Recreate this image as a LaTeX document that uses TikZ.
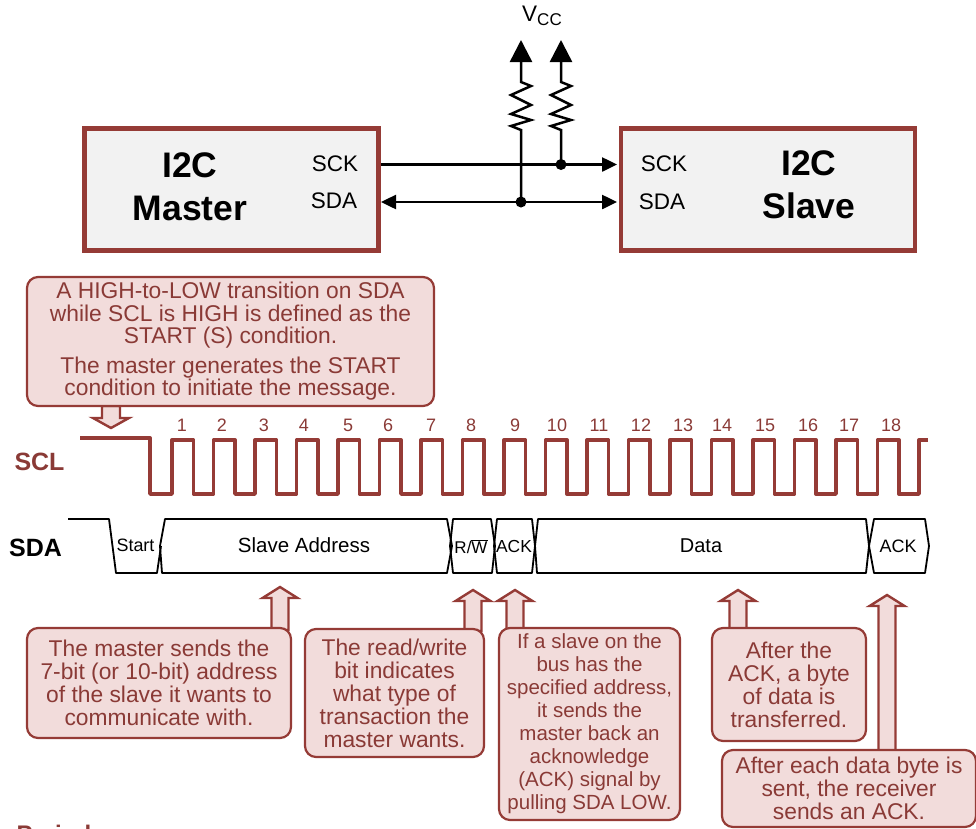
\documentclass[tikz,border=0pt]{standalone}
\usepackage{fontspec}
\setmainfont{Liberation Sans}
\usetikzlibrary{arrows.meta, positioning}
\definecolor{wine}{HTML}{953B36}
\definecolor{winetext}{HTML}{8A3A36}
\definecolor{blush}{HTML}{F2DCDB}

\begin{document}
\begin{tikzpicture}[
  x=1pt, y=-1pt,
  chip/.style={rectangle, draw=wine, line width=4.5pt, fill=black!5, inner sep=0pt,
               minimum width=294pt, minimum height=122pt},
  chiptitle/.style={align=center, font=\fontsize{35.5}{43}\selectfont\bfseries},
  pin/.style={font=\fontsize{22.5}{22.5}\selectfont},
  busline/.style={line width=2.5pt},
  busarrow/.style={busline, -{Triangle[length=15pt, width=14pt]}},
  dualarrow/.style={busline, {Triangle[length=15pt, width=14pt]}-{Triangle[length=15pt, width=14pt]}},
  callout/.style={rectangle, draw=wine, line width=2.2pt, fill=blush, rounded corners=11pt,
                  inner sep=0pt, align=center, text=winetext,
                  font=\fontsize{22.8}{23}\selectfont},
  blockarrow/.style={draw=wine, line width=2.4pt, fill=blush, line join=miter},
  clockno/.style={text=winetext, font=\fontsize{18}{18}\selectfont},
  sigbox/.style={draw=black, line width=1.8pt, line join=round},
  siglabel/.style={font=\fontsize{20.5}{20.5}\selectfont},
]
\useasboundingbox (0,0) rectangle (976,828);
\clip (0,0) rectangle (976,828);

% ---- chips ----
\node[chip] (master) at (231.5,189.5) {};
\node[chip] (slave) at (768,189.5) {};
\node[chiptitle] (mastertitle) at (190,187) {I2C\\Master};
\node[chiptitle] (slavetitle) at (809,185) {I2C\\Slave};
\node[pin] (masck) at (335,164) {SCK};
\node[pin] (masda) at (334,201) {SDA};
\node[pin] (slsck) at (664,164) {SCK};
\node[pin] (slsda) at (662,202) {SDA};

% ---- bus ----
\coordinate (sckin) at (381,164.5);
\coordinate (sckout) at (617,164.5);
\coordinate (sdain) at (381,202);
\coordinate (sdaout) at (617,202);
\coordinate (vone) at (521,40);
\coordinate (vtwo) at (561,40);
\coordinate (jone) at (521,202);
\coordinate (jtwo) at (561,164.5);
\node[font=\fontsize{22.5}{22}\selectfont] (vcc) at (542,16) {V\raisebox{-4pt}{\fontsize{17}{17}\selectfont CC}};

\draw[busarrow] (sckin) -- (sckout);
\draw[dualarrow] (sdain) -- (sdaout);
\foreach \xpos/\tipname/\joint in {521/vone/jone, 561/vtwo/jtwo} {
  \draw[busline, -{Triangle[length=22pt, width=22pt]}, line join=miter]
    (\joint) -- (\xpos,130) -- ++(-10,-4) -- ++(20,-6) -- ++(-20,-6) -- ++(20,-9) -- ++(-20,-10)
    -- ++(20,-9) -- ++(-10,-4) -- (\tipname);
}
\fill (jone) circle (5.5pt);
\fill (jtwo) circle (5.5pt);

% ---- start note ----
\draw[blockarrow] (102,406) -- (102,418) -- (93,418) -- (111,428) -- (129,418) -- (120,418) -- (120,406) -- cycle;
\node[callout, minimum width=407pt, minimum height=129pt, font=\fontsize{22.8}{22.5}\selectfont] (startnote) at (230.5,341.5)
  {A HIGH-to-LOW transition on SDA\\while SCL is HIGH is defined as the\\START (S) condition.\\[7pt]
   The master generates the START\\condition to initiate the message.};

% ---- SCL ----
\node[text=winetext, font=\fontsize{25}{25}\selectfont\bfseries] (scl) at (39.5,462) {SCL};
\draw[wine, line width=3.4pt, line join=round]
  (80,438) -- (150,438) -- (150,494)
  \foreach \k in {0,...,17} {
    -- ({172+41.5*\k},494) -- ({172+41.5*\k},440) -- ({193.5+41.5*\k},440) -- ({193.5+41.5*\k},494)
  } -- (919,494) -- (919,440) -- (928,440);
\foreach \k/\xpos in {1/182,2/222,3/264,4/304,5/348,6/388,7/431,8/471,9/515,10/557,11/599,12/641,13/683,14/722,15/765,16/808,17/849,18/891} {
  \node[clockno] (clk\k) at (\xpos,425) {\k};
}

% ---- SDA ----
\node[font=\fontsize{25}{25}\selectfont\bfseries] (sda) at (35.5,548) {SDA};
\draw[sigbox] (68,519) -- (109,519) -- (116,573) -- (157,573) -- (161,546);
\draw[sigbox] (165,519) -- (447,519) -- (452,546) -- (447,573) -- (162,573) -- (160,546) -- cycle;
\draw[sigbox] (453,519) -- (491,519) -- (495,546) -- (492,573) -- (453,573) -- (450,546) -- cycle;
\draw[sigbox] (497,519) -- (532,519) -- (535,546) -- (532,573) -- (497,573) -- (494,546) -- cycle;
\draw[sigbox] (538,519) -- (866,519) -- (869,546) -- (866,573) -- (537,573) -- (535,546) -- cycle;
\draw[sigbox] (874,519) -- (925,519) -- (929,546) -- (925,573) -- (874,573) -- (869,546) -- cycle;
\node[siglabel, font=\fontsize{17.9}{18}\selectfont] (startlbl) at (135.5,545) {Start};
\node[siglabel] (addrlbl) at (304,545) {Slave Address};
\node[siglabel, font=\fontsize{17}{17}\selectfont] (rwlbl) at (471,547) {R/$\overline{\mbox{W}}$};
\node[siglabel, font=\fontsize{17.4}{18}\selectfont] (acklbl) at (514,546) {ACK};
\node[siglabel, font=\fontsize{20}{20}\selectfont] (datalbl) at (701,546) {Data};
\node[siglabel, font=\fontsize{18}{18}\selectfont] (ackbl) at (898,546) {ACK};

% ---- notes ----
\foreach \xpos/\tip/\foot in {280/587/630, 473/590/631, 515/590/630, 738/590/630, 887/595/752} {
  \draw[blockarrow] (\xpos-8.5,\foot) -- (\xpos-8.5,\tip+11) -- (\xpos-17.5,\tip+11) -- (\xpos,\tip)
    -- (\xpos+17.5,\tip+11) -- (\xpos+8.5,\tip+11) -- (\xpos+8.5,\foot) -- cycle;
}

\node[callout, minimum width=264pt, minimum height=110pt] (addrnote) at (159,683)
  {The master sends the\\7-bit (or 10-bit) address\\of the slave it wants to\\communicate with.};
\node[callout, minimum width=179pt, minimum height=128pt] (rwnote) at (394.5,693)
  {The read/write\\bit indicates\\what type of\\transaction the\\master wants.};
\node[callout, minimum width=181pt, minimum height=192pt, font=\fontsize{20.5}{23}\selectfont] (acknote) at (589.5,724)
  {If a slave on the\\bus has the\\specified address,\\it sends the\\master back an\\acknowledge\\(ACK) signal by\\pulling SDA LOW.};
\node[callout, minimum width=154pt, minimum height=113pt] (datanote) at (789,684.5)
  {After the\\ACK, a byte\\of data is\\transferred.};
\node[callout, minimum width=254pt, minimum height=77pt] (acknotetwo) at (849,788.5)
  {After each data byte is\\sent, the receiver\\sends an ACK.};

\node[text=winetext, anchor=base west, font=\fontsize{24}{24}\selectfont\bfseries] (period) at (13,842) {Period};
\end{tikzpicture}
\end{document}
